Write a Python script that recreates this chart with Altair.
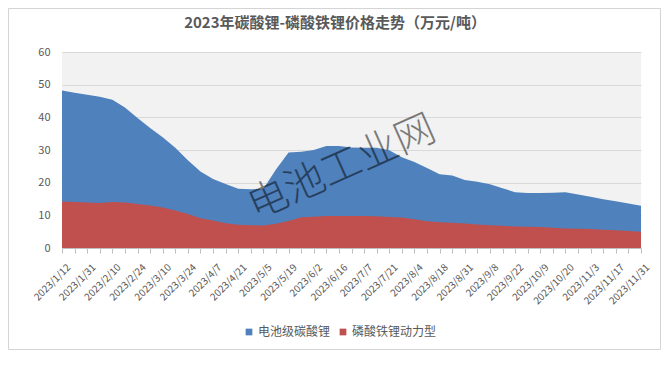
import json
import altair as alt
import pandas as pd

# ---- data ----
tick_labels = ["2023/1/12", "2023/1/31", "2023/2/10", "2023/2/24", "2023/3/10", "2023/3/24",
               "2023/4/7", "2023/4/21", "2023/5/5", "2023/5/19", "2023/6/2", "2023/6/16",
               "2023/7/7", "2023/7/21", "2023/8/4", "2023/8/18", "2023/8/31", "2023/9/8",
               "2023/9/22", "2023/10/9", "2023/10/20", "2023/11/3", "2023/11/17", "2023/11/31"]
series_names = ["电池级碳酸锂", "磷酸铁锂动力型"]
carbonate = [48.2, 47.5, 46.9, 46.3, 45.4, 43.0, 39.8, 36.7, 33.9, 30.7,
             26.9, 23.4, 21.1, 19.6, 18.1, 18.0, 18.1, 24.0, 29.2, 29.5,
             30.0, 31.2, 31.2, 30.8, 30.7, 30.7, 29.9, 27.8, 26.3, 24.5,
             22.6, 22.2, 20.8, 20.3, 19.5, 18.3, 17.1, 16.8, 16.8, 16.9,
             17.1, 16.4, 15.7, 14.9, 14.3, 13.6, 12.9]
lfp = [14.2, 14.1, 13.9, 13.8, 14.1, 13.9, 13.5, 13.0, 12.4, 11.5,
       10.4, 9.1, 8.4, 7.6, 7.1, 7.0, 6.9, 7.4, 8.3, 9.4,
       9.6, 9.8, 9.8, 9.8, 9.8, 9.7, 9.5, 9.3, 8.8, 8.2,
       7.9, 7.7, 7.5, 7.2, 7.0, 6.8, 6.6, 6.5, 6.4, 6.2,
       6.0, 5.9, 5.8, 5.6, 5.4, 5.2, 5.0]
y_ticks = [0, 10, 20, 30, 40, 50, 60]
colors = ["#4f81bd", "#c0504d"]
title_text = "2023年碳酸锂-磷酸铁锂价格走势（万元/吨）"
watermark = "电池工业网"

n = len(carbonate)
idx = list(range(n))
df = pd.DataFrame({
    "idx": idx + idx,
    "value": carbonate + lfp,
    "series": [series_names[0]] * n + [series_names[1]] * n,
})

font = "Noto Sans CJK SC"
label_expr = "datum.value % 2 == 0 ? " + json.dumps(tick_labels) + "[datum.value / 2] : ''"

x_enc = alt.X("idx:Q",
              scale=alt.Scale(domain=[0, n - 1], nice=False, zero=False),
              axis=alt.Axis(values=idx, labelExpr=label_expr, title=None, grid=False,
                            labelAngle=-45, labelFontSize=10, labelColor="#595959",
                            labelFont=font, labelOverlap=False, labelBound=False,
                            tickColor="#bfbfbf", domainColor="#bfbfbf", tickSize=5,
                            labelPadding=9, labelOffset=3))
y_enc = alt.Y("value:Q",
              scale=alt.Scale(domain=[0, 60], nice=False),
              axis=alt.Axis(values=y_ticks, title=None, grid=True, gridColor="#d9d9d9",
                            domain=False, ticks=False, labelPadding=12, labelFontSize=11,
                            labelColor="#595959", labelFont=font))
color_enc = alt.Color("series:N",
                      scale=alt.Scale(domain=series_names, range=colors),
                      legend=alt.Legend(orient="none", legendX=181, legendY=274,
                                        direction="horizontal", title=None,
                                        symbolType="square", symbolSize=45,
                                        symbolStrokeWidth=0, labelFontSize=12,
                                        labelColor="#595959", labelFont=font,
                                        columnPadding=6, labelOffset=3, padding=0))

base = alt.Chart(df)
area_blue = base.transform_filter(alt.datum.series == series_names[0]).mark_area(opacity=1).encode(
    x=x_enc, y=y_enc, color=color_enc)
area_red = base.transform_filter(alt.datum.series == series_names[1]).mark_area(opacity=1).encode(
    x=x_enc, y=y_enc, color=color_enc)

one = pd.DataFrame({"t": [watermark], "title": [title_text]})
mark_wm = alt.Chart(one).mark_text(angle=336, fontSize=40, font=font, fontWeight=300,
                                   color="black", opacity=0.5, align="center",
                                   baseline="middle").encode(
    text="t:N", x=alt.value(280), y=alt.value(116))

mark_title = alt.Chart(one).mark_text(fontSize=15, fontWeight="bold", font=font,
                                      color="#595959", align="center",
                                      baseline="middle").encode(
    text="title:N", x=alt.value(273), y=alt.value(-29))

frame = alt.Chart(one).mark_rect(fill="transparent", stroke="#d4d4d4", strokeWidth=1).encode(
    x=alt.value(-53.5), x2=alt.value(598.5), y=alt.value(-43.5), y2=alt.value(297.5))

chart = alt.layer(frame, area_blue, area_red, mark_wm, mark_title).properties(
    width=579, height=196,
    autosize=alt.AutoSizeParams(type="none"),
    padding={"left": 54, "top": 44, "right": 20, "bottom": 113},
).configure(background="white",
            view=alt.ViewConfig(fill="#f2f2f2", strokeWidth=0))

chart.save("out.html", embed_options={"renderer": "svg", "actions": False})
